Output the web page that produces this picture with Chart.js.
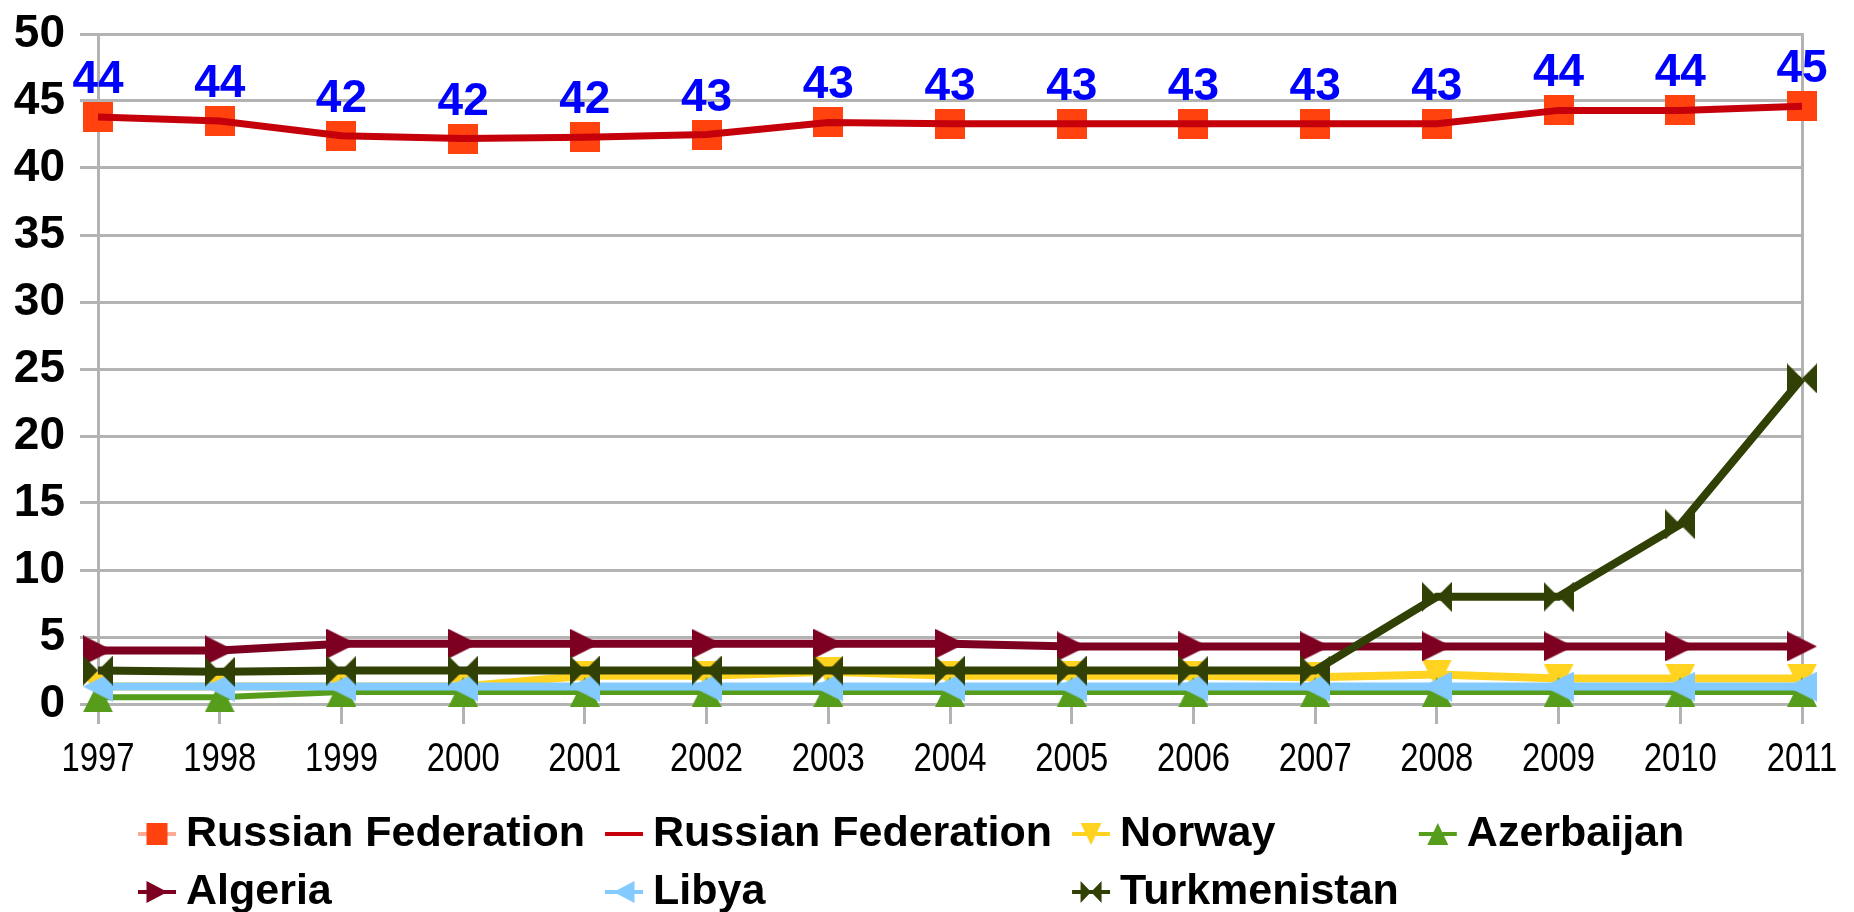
<!DOCTYPE html>
<html>
<head>
<meta charset="utf-8">
<script src="https://cdn.jsdelivr.net/npm/chart.js@4.4.1/dist/chart.umd.min.js"></script>
<style>
  html, body { margin: 0; padding: 0; background: #fff; }
  canvas { display: block; }
</style>
</head>
<body>
<canvas id="myChart" width="1854" height="912"></canvas>
<script>
const years = ['1997', '1998', '1999', '2000', '2001', '2002', '2003', '2004', '2005', '2006', '2007', '2008', '2009', '2010', '2011'];
const russiaMarkers = [43.8, 43.5, 42.4, 42.2, 42.3, 42.5, 43.4, 43.3, 43.3, 43.3, 43.3, 43.3, 44.3, 44.3, 44.6];
const russiaLine = [43.8, 43.5, 42.4, 42.2, 42.3, 42.5, 43.4, 43.3, 43.3, 43.3, 43.3, 43.3, 44.3, 44.3, 44.6];
const norway = [1.3, 1.3, 1.3, 1.3, 2.1, 2.1, 2.4, 2.1, 2.1, 2.1, 2.0, 2.2, 1.9, 1.9, 1.9];
const azerbaijan = [0.5, 0.5, 0.9, 0.9, 0.9, 0.9, 0.9, 0.9, 0.9, 0.9, 0.9, 0.9, 0.9, 0.9, 0.9];
const algeria = [4.0, 4.0, 4.5, 4.5, 4.5, 4.5, 4.5, 4.5, 4.3, 4.3, 4.3, 4.3, 4.3, 4.3, 4.3];
const libya = [1.3, 1.3, 1.3, 1.3, 1.3, 1.3, 1.3, 1.3, 1.3, 1.3, 1.3, 1.3, 1.3, 1.3, 1.3];
const turkmenistan = [2.5, 2.4, 2.5, 2.5, 2.5, 2.5, 2.5, 2.5, 2.5, 2.5, 2.5, 8.0, 8.0, 13.4, 24.3];
const seriesNames = ['Russian Federation', 'Russian Federation', 'Norway', 'Azerbaijan', 'Algeria', 'Libya', 'Turkmenistan'];

const GRID = '#b3b3b3';
const SANS = '"Liberation Sans", Arial, sans-serif';

// marker shapes drawn inside a box centred on the point
function drawShape(ctx, shape, cx, cy, w, h, color) {
  const l = cx - w / 2, r = cx + w / 2, t = cy - h / 2, b = cy + h / 2;
  ctx.fillStyle = color;
  ctx.beginPath();
  if (shape === 'square') {
    ctx.rect(l, t, w, h);
  } else if (shape === 'up') {
    ctx.moveTo(cx, t); ctx.lineTo(r, b); ctx.lineTo(l, b);
  } else if (shape === 'down') {
    ctx.moveTo(l, t); ctx.lineTo(r, t); ctx.lineTo(cx, b);
  } else if (shape === 'right') {
    ctx.moveTo(l, t); ctx.lineTo(r, cy); ctx.lineTo(l, b);
  } else if (shape === 'left') {
    ctx.moveTo(r, t); ctx.lineTo(l, cy); ctx.lineTo(r, b);
  } else if (shape === 'bowtie') {
    ctx.moveTo(l, t); ctx.lineTo(cx, cy); ctx.lineTo(l, b); ctx.closePath();
    ctx.moveTo(r, t); ctx.lineTo(cx, cy); ctx.lineTo(r, b);
  }
  ctx.closePath();
  ctx.fill();
}

function marker(shape, color, size) {
  const c = document.createElement('canvas');
  c.width = size; c.height = size;
  drawShape(c.getContext('2d'), shape, size / 2, size / 2, size, size, color);
  return c;
}

function lineSeries(label, data, color, shape, order, width) {
  return {
    label, data, order,
    borderColor: color, backgroundColor: color, borderWidth: width,
    pointStyle: marker(shape, color, 30), pointRadius: 15,
    shape, clip: false, tension: 0
  };
}

const datasets = [
  { label: seriesNames[0], data: russiaMarkers, order: 6, showLine: false,
    borderColor: '#ff420e', backgroundColor: '#ff420e',
    pointStyle: marker('square', '#ff420e', 30), pointRadius: 15, shape: 'square', clip: false },
  { label: seriesNames[1], data: russiaLine, order: 5, borderColor: '#c5000b',
    backgroundColor: '#c5000b', borderWidth: 7, pointRadius: 0, clip: false, tension: 0 },
  lineSeries(seriesNames[2], norway, '#ffd320', 'down', 4, 8),
  lineSeries(seriesNames[3], azerbaijan, '#579d1c', 'up', 3, 6),
  lineSeries(seriesNames[4], algeria, '#7e0021', 'right', 2, 8),
  lineSeries(seriesNames[5], libya, '#83caff', 'left', 1, 8),
  lineSeries(seriesNames[6], turkmenistan, '#314004', 'bowtie', 0, 8)
];

// blue value labels above the Russian Federation points
const valueLabels = {
  id: 'valueLabels',
  afterDatasetsDraw(chart) {
    const ctx = chart.ctx;
    const meta = chart.getDatasetMeta(0);
    ctx.save();
    ctx.font = 'bold 46px ' + SANS;
    ctx.fillStyle = '#0000ff';
    ctx.textAlign = 'center';
    ctx.textBaseline = 'alphabetic';
    meta.data.forEach((pt, i) => {
      ctx.fillText(String(Math.round(chart.data.datasets[0].data[i])), pt.x, pt.y - 24);
    });
    ctx.restore();
  }
};

// year labels, squeezed horizontally like the narrow font of the original
const yearLabels = {
  id: 'yearLabels',
  afterDraw(chart) {
    const ctx = chart.ctx;
    const xs = chart.scales.x;
    ctx.save();
    ctx.font = '40px ' + SANS;
    ctx.fillStyle = '#000';
    ctx.textAlign = 'center';
    ctx.textBaseline = 'alphabetic';
    years.forEach((lab, i) => {
      ctx.save();
      ctx.translate(xs.getPixelForTick(i), xs.top + 67);
      ctx.scale(0.82, 1);
      ctx.fillText(lab, 0, 0);
      ctx.restore();
    });
    ctx.restore();
  }
};

// legend laid out as a 4 column grid under the plot
const gridLegend = {
  id: 'gridLegend',
  afterDraw(chart) {
    const ctx = chart.ctx;
    const items = chart.data.datasets;
    const cols = 4, x0 = 138, sample = 48, gap = 20;
    const rows = [846, 904];
    ctx.save();
    ctx.font = 'bold 43px ' + SANS;
    const colW = [];
    items.forEach((ds, i) => {
      const c = i % cols;
      colW[c] = Math.max(colW[c] || 0, sample + ctx.measureText(ds.label).width);
    });
    items.forEach((ds, i) => {
      const c = i % cols, r = Math.floor(i / cols);
      let x = x0;
      for (let k = 0; k < c; k++) x += colW[k] + gap;
      const y = rows[r], my = y - 12;
      ctx.globalAlpha = ds.shape === 'square' ? 0.45 : 1;
      ctx.strokeStyle = ds.borderColor;
      ctx.lineWidth = 4;
      ctx.beginPath(); ctx.moveTo(x, my); ctx.lineTo(x + 38, my); ctx.stroke();
      ctx.globalAlpha = 1;
      if (ds.shape) drawShape(ctx, ds.shape, x + 19, my, 21, 22, ds.backgroundColor);
      ctx.fillStyle = '#000';
      ctx.textBaseline = 'alphabetic';
      ctx.fillText(ds.label, x + sample, y);
    });
    ctx.restore();
  }
};

const ctx = document.getElementById('myChart').getContext('2d');
const myChart = new Chart(ctx, {
  type: 'line',
  data: { labels: years, datasets },
  plugins: [valueLabels, yearLabels, gridLegend],
  options: {
    responsive: false,
    animation: false,
    devicePixelRatio: 1,
    layout: { padding: { left: 0, right: 52, top: 34, bottom: 108 } },
    plugins: { legend: { display: false }, tooltip: { enabled: false } },
    scales: {
      x: {
        grid: { display: true, drawOnChartArea: false, drawTicks: true, tickLength: 20, color: GRID, lineWidth: 3 },
        border: { display: true, color: GRID, width: 3 },
        ticks: { display: false, autoSkip: false },
        afterFit(s) { s.height = 100; }
      },
      y: {
        min: 0, max: 50,
        grid: { color: GRID, lineWidth: 3, tickLength: 18 },
        border: { color: GRID, width: 3 },
        ticks: { stepSize: 5, color: '#000', padding: 15,
          font: { family: SANS, size: 46, weight: 'bold', lineHeight: 0.8 } },
        afterFit(s) { s.width = 98; }
      },
      y2: {
        position: 'right',
        grid: { display: false, drawTicks: false },
        ticks: { display: false },
        border: { color: GRID, width: 3 },
        afterFit(s) { s.width = 0; }
      }
    }
  }
});
</script>
</body>
</html>
